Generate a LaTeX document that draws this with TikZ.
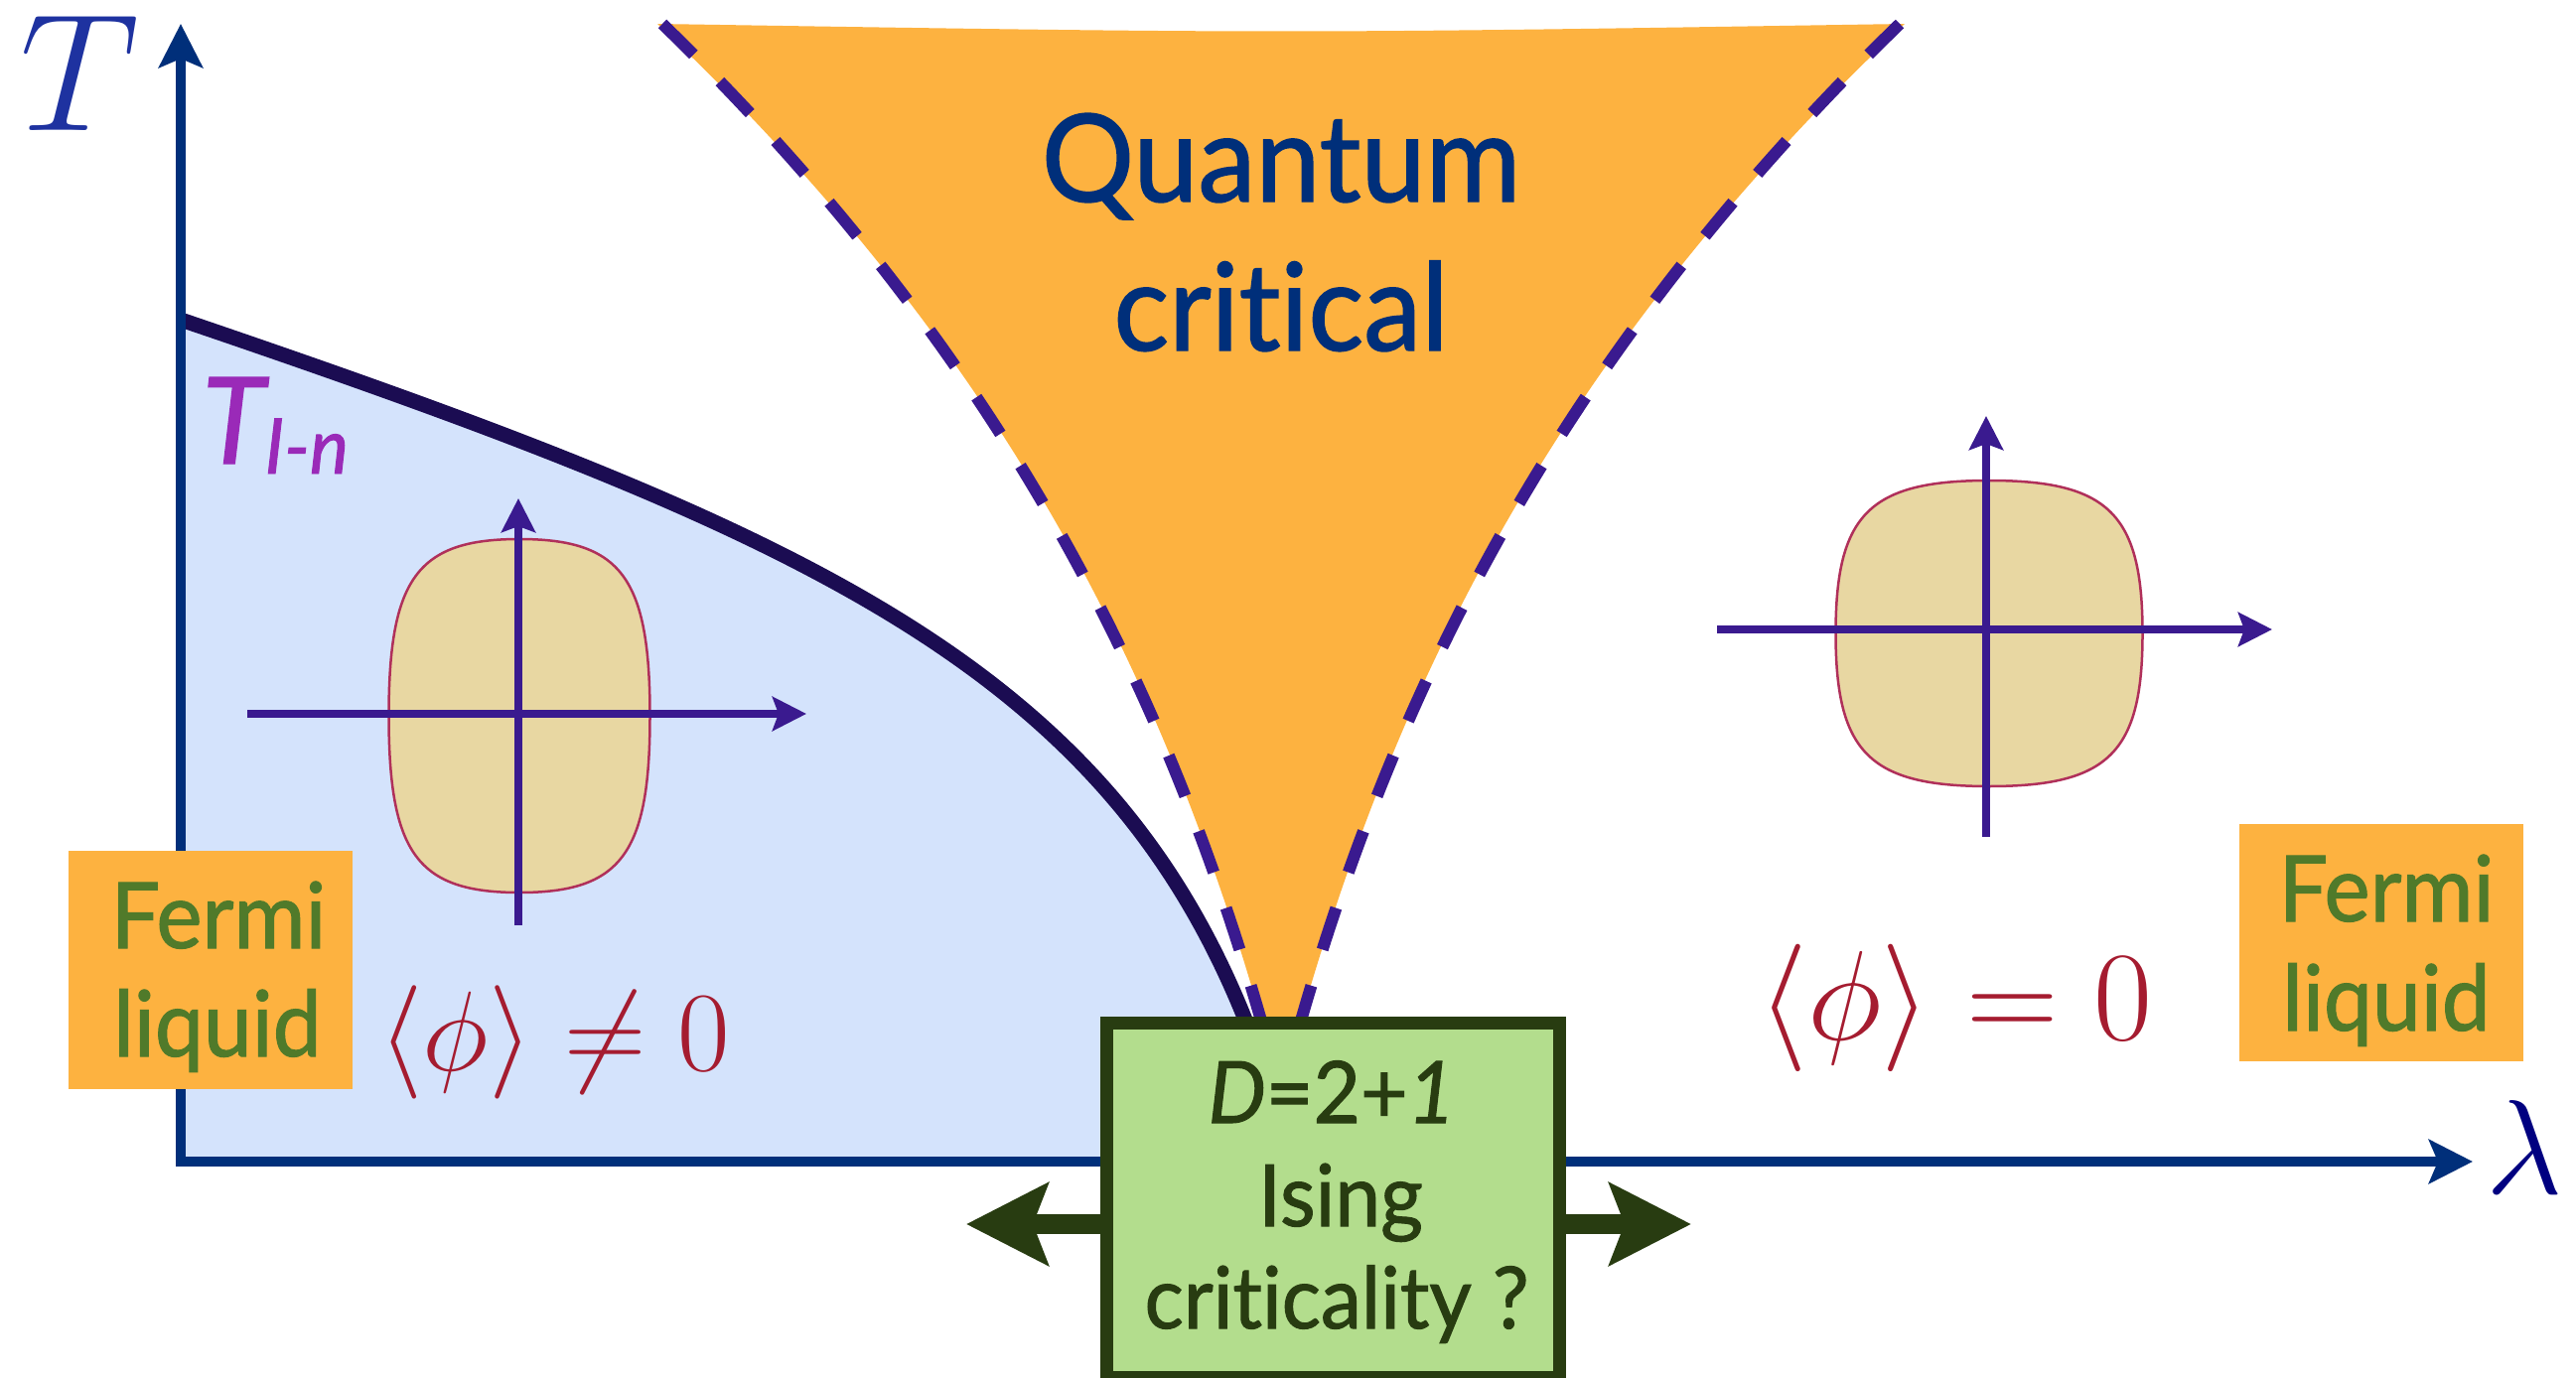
\documentclass[tikz,border=0pt]{standalone}
\usepackage{fix-cm}
\usepackage{fontspec}
\usetikzlibrary{arrows.meta}
\newfontfamily\lato[FakeStretch=0.95, FakeBold=1.2, Ligatures={NoCommon,NoContextual}]{Lato}
\definecolor{axisblue}{HTML}{002F7A}
\definecolor{tblue}{HTML}{1E32A0}
\definecolor{lamblue}{HTML}{000080}
\definecolor{phaseline}{HTML}{1B0C52}
\definecolor{orderfill}{HTML}{D4E3FC}
\definecolor{qcorange}{HTML}{FDB240}
\definecolor{dashpurple}{HTML}{3A1A8F}
\definecolor{tinpurple}{HTML}{9A2AB8}
\definecolor{fsfill}{HTML}{E8D7A2}
\definecolor{fsline}{HTML}{B0305A}
\definecolor{flgreen}{HTML}{507A2A}
\definecolor{phired}{HTML}{A51C30}
\definecolor{isingfill}{HTML}{B3DD8D}
\definecolor{isingdark}{HTML}{283C11}
\newcommand\fermisurf[4]{%
  \filldraw[fsshape] ({#1+#3},#2)
    .. controls ({#1+#3},{#2+0.78*#4}) and ({#1+0.78*#3},{#2+#4}) .. (#1,{#2+#4})
    .. controls ({#1-0.78*#3},{#2+#4}) and ({#1-#3},{#2+0.78*#4}) .. ({#1-#3},#2)
    .. controls ({#1-#3},{#2-0.78*#4}) and ({#1-0.78*#3},{#2-#4}) .. (#1,{#2-#4})
    .. controls ({#1+0.78*#3},{#2-#4}) and ({#1+#3},{#2-0.78*#4}) .. cycle;}
\begin{document}
\begin{tikzpicture}[x=0.01cm, y=-0.01cm,
  axisline/.style={draw=axisblue, line width=0.1cm, line join=miter,
    {Stealth[length=0.44cm, width=0.44cm, inset=0.09cm]}-{Stealth[length=0.44cm, width=0.44cm, inset=0.09cm]}},
  phase/.style={draw=phaseline, line width=0.15cm},
  qcdash/.style={draw=dashpurple, line width=0.12cm, dash pattern=on 0.44cm off 0.38cm},
  fsshape/.style={fill=fsfill, draw=fsline, line width=0.025cm},
  fsaxis/.style={draw=dashpurple, line width=0.08cm, -{Stealth[length=0.34cm, width=0.34cm, inset=0.06cm]}},
  flbox/.style={fill=qcorange, inner sep=0},
  fltext/.style={text=flgreen, font=\lato\fontsize{26.2}{30}\selectfont, inner sep=0},
  qctext/.style={text=axisblue, font=\lato\fontsize{34.9}{40}\selectfont, inner sep=0},
  isingtext/.style={text=isingdark, font=\lato\fontsize{24.6}{28}\selectfont, inner sep=0},
  dbl/.style={draw=isingdark, line width=0.2cm,
    {Stealth[length=0.82cm, width=0.82cm, inset=0.15cm]}-{Stealth[length=0.82cm, width=0.82cm, inset=0.15cm]}}
]
\useasboundingbox (0,0) rectangle (2594,1388);

% ordered phase region
\coordinate (pb0) at (182,322);
\coordinate (pb1) at (1300,1170);
\fill[orderfill] (pb0) .. controls (882,560) and (1180,700) .. (pb1) -- (182,1170) -- cycle;
\draw[phase] (pb0) .. controls (882,560) and (1180,700) .. (pb1);

% quantum critical fan
\fill[qcorange] (662,24) .. controls (1026,369) and (1190,715) .. (1290,1100)
   .. controls (1390,715) and (1554,369) .. (1918,24)
   .. controls (1290,34) .. cycle;
\coordinate (dl0) at (667,24);
\coordinate (dl1) at (1279,1060);
\coordinate (dr0) at (1913,24);
\coordinate (dr1) at (1301,1060);
\draw[qcdash] (dl0) .. controls (1021.9,369.3) and (1183.7,714.7) .. (dl1);
\draw[qcdash] (dr0) .. controls (1558.1,369.3) and (1396.3,714.7) .. (dr1);

\node[qctext, anchor=base] (qc1) at (1290,203) {Quantum};
\node[qctext, anchor=base] (qc2) at (1290,353) {critical};

% axes
\coordinate (O) at (182,1170);
\coordinate (Ttip) at (182,24);
\coordinate (Ltip) at (2490,1170);
\draw[axisline] (Ttip) -- (O) -- (Ltip);
\node[text=tblue, font=\fontsize{48}{50}\selectfont, inner sep=0] (Tlab) at (80,74) {$T$};
\node[text=lamblue, font=\fontsize{38.5}{40}\selectfont, inner sep=0] (lamlab) at (2542,1155) {$\lambda$};

% T_{I-n}
\node[anchor=base west, text=tinpurple, font=\lato\itshape\fontsize{34.5}{36}\selectfont, inner sep=0] (Tin) at (203,467) {T\raisebox{-0.1cm}{\fontsize{22}{24}\selectfont I-n}};

% Fermi surfaces
\fermisurf{523}{721}{131.5}{178}
\coordinate (f1l) at (249,719); \coordinate (f1r) at (812,719);
\coordinate (f1b) at (522,932); \coordinate (f1t) at (522,502);
\draw[fsaxis] (f1l) -- (f1r);
\draw[fsaxis] (f1b) -- (f1t);

\fermisurf{2003}{638}{154.5}{154}
\coordinate (f2l) at (1729,634); \coordinate (f2r) at (2288,634);
\coordinate (f2b) at (2000,843); \coordinate (f2t) at (2000,419);
\draw[fsaxis] (f2l) -- (f2r);
\draw[fsaxis] (f2b) -- (f2t);

% order parameter labels
\node[text=phired, font=\fontsize{32.5}{34}\selectfont, inner sep=0] (phi1) at (558,1050) {$\langle\phi\rangle\neq0$};
\node[text=phired, font=\fontsize{36.5}{38}\selectfont, inner sep=0] (phi2) at (1969,1015) {$\langle\phi\rangle=0$};

% Fermi liquid boxes
\node[flbox, minimum width=2.86cm, minimum height=2.40cm] (fl1) at (212,977) {};
\node[fltext, anchor=base] (fl1a) at (220,955) {Fermi};
\node[fltext, anchor=base] (fl1b) at (219,1064) {liquid};
\node[flbox, minimum width=2.86cm, minimum height=2.39cm] (fl2) at (2398,949.5) {};
\node[fltext, anchor=base] (fl2a) at (2403,928) {Fermi};
\node[fltext, anchor=base] (fl2b) at (2403,1038) {liquid};

% Ising box with double arrow
\coordinate (al) at (973,1233);
\coordinate (ar) at (1703,1233);
\draw[dbl] (al) -- (ar);
\node[draw=isingdark, fill=isingfill, line width=0.13cm, minimum width=4.56cm, minimum height=3.56cm, inner sep=0] (ising) at (1342.5,1209) {};
\node[isingtext, anchor=base] (isingA) at (1341,1131) {\itshape D\upshape=2+\itshape 1};
\node[isingtext, anchor=base] (isingB) at (1350,1235) {Ising};
\node[isingtext, anchor=base] (isingC) at (1346,1338) {criticality ?};
\end{tikzpicture}
\end{document}
